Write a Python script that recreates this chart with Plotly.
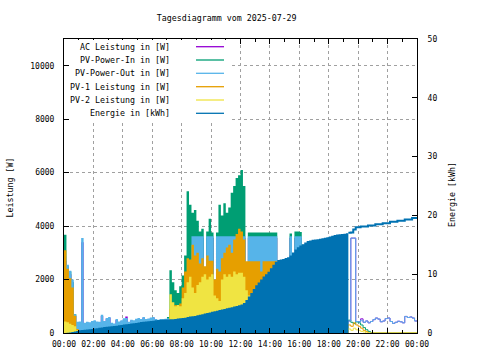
import pandas as pd
import plotly.graph_objects as go

DAY = "2025-07-29"
TITLE = "Tagesdiagramm vom 2025-07-29"
times = pd.date_range(f"{DAY} 00:00", periods=144, freq="10min")
x_start = pd.Timestamp(f"{DAY} 00:00")
x_end = x_start + pd.Timedelta(hours=24)
fill_until = pd.Timestamp(f"{DAY} 19:20")

# values every 10 minutes, one row per hour (00:00 ... 23:00)
ac_leistung = [
    2700, 2400, 2200, 1900, 650, 380,
    400, 3400, 350, 390, 370, 420,
    450, 400, 390, 640, 420, 530,
    570, 350, 330, 490, 400, 450,
    520, 620, 390, 470, 450, 500,
    530, 490, 570, 490, 510, 550,
    570, 490, 470, 490, 480, 500,
    520, 420, 470, 420, 450, 470,
    470, 670, 1150, 2200, 3550, 3550,
    3550, 3550, 3550, 2200, 3550, 3550,
    3550, 1800, 3550, 3550, 3550, 3550,
    3550, 3550, 3550, 3550, 3550, 3550,
    3550, 3550, 2500, 3550, 3550, 3550,
    3550, 3550, 3550, 3550, 3550, 3550,
    3550, 3550, 3550, 2300, 2250, 2300,
    2350, 2400, 3550, 2700, 3550, 3550,
    3550, 3100, 3000, 2800, 2600, 2400,
    2200, 2000, 1800, 1600, 1450, 1300,
    1150, 1000, 860, 740, 650, 570,
    490, 450, 450, 3550, 3550, 430,
    420, 530, 400, 450, 380, 430,
    500, 560, 520, 420, 450, 540,
    560, 430, 360, 400, 440, 420,
    380, 620, 580, 600, 560, 450,
]
pv_power_in = [
    3680, 2500, 2300, 1900, 700, 300,
    100, 80, 60, 50, 40, 30,
    20, 20, 10, 10, 0, 0,
    0, 0, 0, 0, 0, 0,
    0, 0, 0, 0, 0, 0,
    0, 0, 0, 10, 20, 40,
    60, 80, 120, 160, 200, 260,
    600, 2350, 1900, 1600, 1500, 1750,
    2150, 2900, 5300, 4800, 4500, 4600,
    4200, 3800, 3900, 2400, 3800, 4270,
    3760, 1900, 3760, 4800, 4400, 4850,
    4500, 4700, 5250, 5500, 5800, 5900,
    6100, 5500, 2600, 3760, 3760, 3760,
    3760, 3760, 3760, 3760, 3760, 3760,
    3760, 3760, 3760, 2500, 2450, 2500,
    2550, 2600, 3720, 2800, 3800, 3800,
    3780, 3300, 3200, 3000, 2800, 2600,
    2400, 2200, 2000, 1800, 1600, 1400,
    1250, 1100, 950, 800, 700, 600,
    550, 500, 480, 400, 350, 420,
    380, 300, 200, 120, 60, 20,
    0, 0, 0, 0, 0, 0,
    0, 0, 0, 0, 0, 0,
    0, 0, 0, 0, 0, 0,
]
pv_power_out = [
    2860, 2550, 2330, 2000, 700, 420,
    430, 3550, 380, 420, 400, 450,
    480, 430, 420, 680, 450, 560,
    600, 380, 360, 520, 430, 480,
    550, 560, 420, 500, 480, 530,
    560, 520, 600, 520, 540, 580,
    600, 520, 500, 520, 510, 530,
    550, 450, 500, 450, 480, 500,
    500, 700, 1200, 2300, 3620, 3620,
    3620, 3620, 3620, 2300, 3620, 3620,
    3620, 1900, 3620, 3620, 3620, 3620,
    3620, 3620, 3620, 3620, 3620, 3620,
    3620, 3620, 2600, 3620, 3620, 3620,
    3620, 3620, 3620, 3620, 3620, 3620,
    3620, 3620, 3620, 2400, 2350, 2400,
    2450, 2500, 3620, 2800, 3620, 3620,
    3620, 3200, 3100, 2900, 2700, 2500,
    2300, 2100, 1900, 1700, 1500, 1350,
    1200, 1050, 900, 780, 680, 600,
    520, 480, 450, 3550, 3550, 430,
    420, 480, 400, 450, 380, 430,
    500, 560, 520, 420, 450, 540,
    560, 430, 360, 400, 440, 420,
    380, 620, 580, 600, 560, 450,
]
pv1_leistung = [
    3100, 2400, 2050, 1700, 650, 150,
    0, 0, 0, 0, 0, 0,
    0, 0, 0, 0, 0, 0,
    0, 0, 0, 0, 0, 0,
    0, 0, 0, 0, 0, 0,
    0, 0, 0, 0, 0, 0,
    0, 0, 20, 50, 80, 120,
    300, 900, 900, 1050, 1000, 1100,
    1700, 2300, 2800, 2750, 3300, 2900,
    3000, 2600, 2800, 2500, 2900, 2700,
    2700, 2000, 2400, 2300, 2800, 3000,
    3200, 3300, 3000, 3500, 3700, 3900,
    3800, 3500, 2680, 2680, 2680, 2680,
    2680, 2680, 2300, 2680, 2680, 2680,
    2680, 2680, 2680, 1800, 1750, 1800,
    1850, 1900, 2600, 2100, 2650, 2650,
    2600, 2400, 2300, 2150, 2000, 1850,
    1700, 1550, 1400, 1250, 1100, 1000,
    900, 800, 700, 600, 520, 450,
    380, 320, 300, 250, 380, 300,
    250, 180, 100, 50, 0, 0,
    0, 0, 0, 0, 0, 0,
    0, 0, 0, 0, 0, 0,
    0, 0, 0, 0, 0, 0,
]
pv2_leistung = [
    430, 400, 350, 300, 250, 100,
    0, 0, 0, 0, 0, 0,
    0, 0, 0, 0, 0, 0,
    0, 0, 0, 0, 0, 0,
    0, 0, 0, 0, 0, 0,
    0, 0, 0, 0, 0, 0,
    0, 0, 30, 60, 100, 150,
    350, 1450, 1150, 1000, 1050, 1000,
    1300, 1500, 1900, 2100, 1700, 1500,
    1800, 1900, 2100, 2200, 2000, 2100,
    2200, 1400, 1300, 1200, 2000, 2200,
    2100, 2200, 2100, 2300, 2200, 2250,
    2250, 2100, 1600, 1400, 1300, 1200,
    1100, 1000, 1000, 950, 900, 900,
    900, 880, 860, 700, 700, 700,
    750, 800, 1000, 900, 1050, 1050,
    1000, 950, 900, 850, 800, 750,
    700, 650, 600, 550, 500, 450,
    400, 350, 300, 250, 220, 200,
    180, 160, 150, 100, 180, 120,
    100, 60, 40, 0, 0, 0,
    0, 0, 0, 0, 0, 0,
    0, 0, 0, 0, 0, 0,
    0, 0, 0, 0, 0, 0,
]
energie_kwh = [
    0.0, 0.05, 0.1, 0.15, 0.25, 0.35,
    0.45, 0.5, 0.55, 0.6, 0.65, 0.7,
    0.75, 0.8, 0.9, 0.95, 1.0, 1.05,
    1.1, 1.15, 1.2, 1.25, 1.3, 1.35,
    1.45, 1.5, 1.55, 1.6, 1.65, 1.7,
    1.8, 1.85, 1.9, 1.95, 2.0, 2.05,
    2.1, 2.15, 2.2, 2.25, 2.3, 2.3,
    2.3, 2.35, 2.35, 2.4, 2.45, 2.5,
    2.55, 2.6, 2.7, 2.8, 2.85, 2.9,
    3.0, 3.1, 3.2, 3.3, 3.4, 3.5,
    3.6, 3.7, 3.8, 3.9, 4.0, 4.1,
    4.2, 4.3, 4.4, 4.5, 4.6, 4.7,
    4.85, 5.1, 5.6, 6.2, 6.8, 7.5,
    8.1, 8.6, 9.1, 9.6, 10.0, 10.4,
    11.0, 11.6, 12.1, 12.4, 12.5, 12.6,
    12.75, 12.9, 13.2, 13.7, 14.2, 14.6,
    14.9, 15.1, 15.4, 15.65, 15.75, 15.85,
    15.9, 15.95, 16.05, 16.1, 16.2, 16.3,
    16.4, 16.55, 16.65, 16.75, 16.8, 16.85,
    16.9, 16.95, 17.05, 17.1, 17.6, 18.0,
    18.0, 18.1, 18.1, 18.1, 18.3, 18.3,
    18.3, 18.5, 18.5, 18.5, 18.65, 18.65,
    18.65, 18.9, 18.9, 18.9, 19.1, 19.1,
    19.1, 19.3, 19.3, 19.3, 19.55, 19.55,
]

series = [
    ("AC Leistung in [W]", ac_leistung, "#9400D3"),
    ("PV-Power-In in [W]", pv_power_in, "#009E73"),
    ("PV-Power-Out in [W]", pv_power_out, "#56B4E9"),
    ("PV-1 Leistung in [W]", pv1_leistung, "#E69F00"),
    ("PV-2 Leistung in [W]", pv2_leistung, "#F0E442"),
]
energy = ("Energie in [kWh]", energie_kwh, "#0072B2")


def split(vals):
    s = pd.Series(vals, index=times, dtype=float)
    s = pd.concat([s, pd.Series([vals[-1]], index=[x_end], dtype=float)])
    return s[s.index <= fill_until], s[s.index >= fill_until]


FONT = "DejaVu Sans Mono"
fig = go.Figure()

for name, vals, col in series:
    d, n = split(vals)
    fig.add_trace(go.Scatter(x=d.index, y=d.values, mode="lines", line=dict(color=col, width=0, shape="hv"),
                             fill="tozeroy", fillcolor=col, hoverinfo="skip", showlegend=False))
for name, vals, col in series:
    d, n = split(vals)
    fig.add_trace(go.Scatter(x=n.index, y=n.values, mode="lines", line=dict(color=col, width=1, shape="hv"),
                             hoverinfo="skip", showlegend=False))

ename, evals, ecol = energy
d, n = split(evals)
fig.add_trace(go.Scatter(x=d.index, y=d.values, mode="lines", line=dict(color=ecol, width=0, shape="hv"),
                         fill="tozeroy", fillcolor=ecol, yaxis="y2", hoverinfo="skip", showlegend=False))
fig.add_trace(go.Scatter(x=n.index, y=n.values, mode="lines", line=dict(color=ecol, width=2, shape="hv"),
                         yaxis="y2", hoverinfo="skip", showlegend=False))

W, H = 480, 360
L, R, T, B = 64, 63, 39, 27
pw, ph = W - L - R, H - T - B


def px(x):
    return (x - L) / pw


def py(y):
    return (H - B - y) / ph


tickfont = dict(family=FONT, size=8, color="black")
grid = dict(showgrid=True, gridcolor="#a0a0a0", griddash="3px,3px", gridwidth=1)

fig.update_layout(
    width=W, height=H, margin=dict(l=L, r=R, t=T, b=B, autoexpand=False),
    paper_bgcolor="white", plot_bgcolor="white",
    title=dict(text=TITLE, x=226.7 / W, y=1 - 18.3 / H, xanchor="center", yanchor="middle",
               font=dict(family=FONT, size=8.3, color="black")),
    xaxis=dict(type="date", range=[x_start, x_end], dtick=7200000, tick0=x_start, tickformat="%H:%M",
               ticks="inside", ticklen=5, tickcolor="black", showline=True, linecolor="black", linewidth=1,
               mirror="ticks", tickfont=tickfont, ticklabelstandoff=3,
               minor=dict(dtick=3600000, ticks="inside", ticklen=3, tickcolor="black", showgrid=False),
               **grid),
    yaxis=dict(range=[0, 11000], dtick=2000, tickformat="d", ticks="inside", ticklen=5, tickcolor="black",
               showline=True, linecolor="black", linewidth=1, mirror=True, zeroline=False, tickfont=tickfont,
               ticklabelstandoff=7, **grid),
    yaxis2=dict(range=[0, 50], dtick=10, tickformat="d", overlaying="y", side="right", ticks="inside",
                ticklen=5, tickcolor="black", showline=True, linecolor="black", linewidth=1, zeroline=False,
                showgrid=False, tickfont=tickfont, ticklabelstandoff=8),
)

txtfont = dict(family=FONT, size=8.3, color="black")
fig.add_annotation(text="Leistung [W]", x=px(9.5), y=py(188), xref="paper", yref="paper", textangle=-90,
                   showarrow=False, font=txtfont, xanchor="center", yanchor="middle")
fig.add_annotation(text="Energie [kWh]", x=px(451.5), y=py(194.5), xref="paper", yref="paper", textangle=-90,
                   showarrow=False, font=txtfont, xanchor="center", yanchor="middle")

# key box (opaque, leaves the border ticks visible)
fig.add_shape(type="rect", xref="paper", yref="paper", x0=px(70), x1=px(229), y0=py(121), y1=py(40),
              fillcolor="white", line=dict(width=0), layer="above")
rows = [46.7, 60, 73.3, 86.7, 100, 113.3]
for (name, _, col), yy in zip(series + [energy], rows):
    fig.add_annotation(text=name, x=px(171.5), y=py(yy), xref="paper", yref="paper", showarrow=False,
                       font=txtfont, xanchor="right", yanchor="middle")
    fig.add_shape(type="line", xref="paper", yref="paper", x0=px(196), x1=px(224), y0=py(yy), y1=py(yy),
                  line=dict(color=col, width=1.3))

fig.write_html("out.html", config={"displayModeBar": False, "staticPlot": True},
               post_script="document.body.style.margin='0';document.body.style.padding='0';")
